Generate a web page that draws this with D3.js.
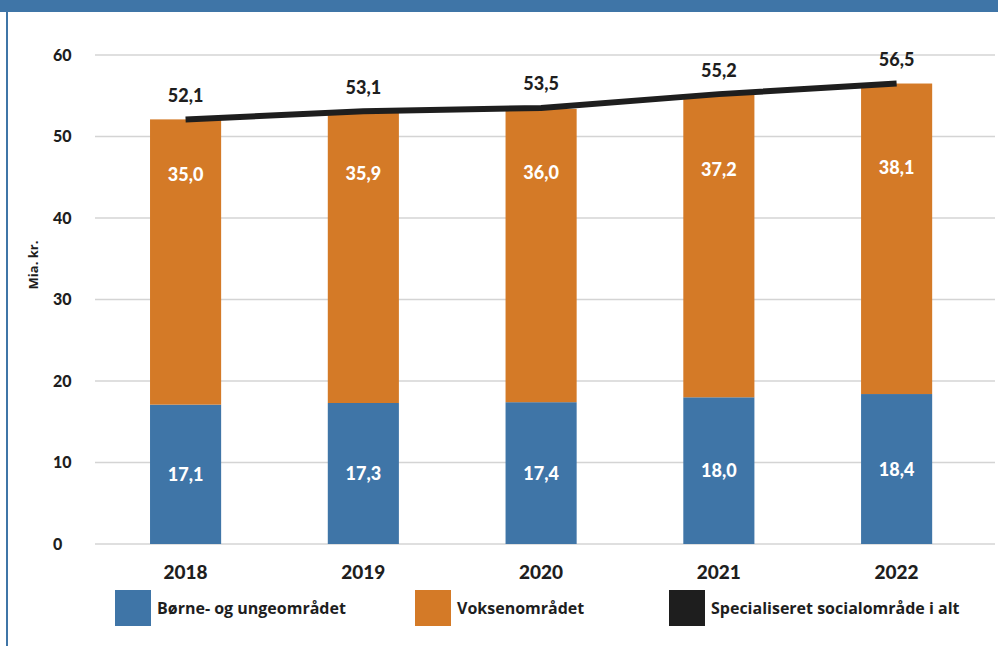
<!DOCTYPE html>
<html>
<head>
<meta charset="utf-8">
<script src="https://cdn.jsdelivr.net/npm/d3@7"></script>
<style>
  body { margin: 0; background: #fff; }
  svg { display: block; }
</style>
</head>
<body>
<script>
let years = ["2018", "2019", "2020", "2021", "2022"];
let boern = [17.1, 17.3, 17.4, 18.0, 18.4];
let voksen = [35.0, 35.9, 36.0, 37.2, 38.1];
let total = [52.1, 53.1, 53.5, 55.2, 56.5];
let yTicks = [0, 10, 20, 30, 40, 50, 60];
let legendNames = ["Børne- og ungeområdet", "Voksenområdet", "Specialiseret socialområde i alt"];

let width = 998;
let height = 646;
let blue = "#3f75a7";
let orange = "#d47a27";
let dark = "#1e1e1e";
let numFont = "Lato, 'Open Sans', sans-serif";
let txtFont = "'Open Sans', sans-serif";

function fmt(d) {
  return d.toFixed(1).replace(".", ",");
}

const svg = d3.select("body")
  .append("svg")
  .attr("width", width)
  .attr("height", height);

// frame: top banner and left border
svg.append("rect")
  .attr("x", 0).attr("y", 0)
  .attr("width", width).attr("height", 12)
  .attr("fill", blue);
svg.append("rect")
  .attr("x", 6).attr("y", 0)
  .attr("width", 2).attr("height", height)
  .attr("fill", blue);

const x = d3.scaleBand()
  .domain(years)
  .range([96.7, 985.5])
  .paddingInner(0.6)
  .paddingOuter(0.3);

const y = d3.scaleLinear()
  .domain([0, 60])
  .range([544, 55]);

// gridlines
svg.selectAll(".grid")
  .data(yTicks)
  .enter()
  .append("line")
  .attr("class", "grid")
  .attr("x1", 95)
  .attr("x2", 995)
  .attr("y1", function(d) { return y(d); })
  .attr("y2", function(d) { return y(d); })
  .attr("stroke", "#d4d4d4")
  .attr("stroke-width", 1.3);

// y tick labels
svg.selectAll(".ytick")
  .data(yTicks)
  .enter()
  .append("text")
  .attr("class", "ytick")
  .attr("x", 53)
  .attr("y", function(d) { return y(d); })
  .attr("dy", "0.36em")
  .attr("font-family", numFont)
  .attr("font-weight", 900)
  .attr("font-size", "16px")
  .attr("fill", dark)
  .text(function(d) { return d; });

svg.append("text")
  .attr("transform", "translate(38,265) rotate(-90)")
  .attr("text-anchor", "middle")
  .attr("font-family", txtFont)
  .attr("font-weight", 700)
  .attr("font-size", "13px")
  .attr("fill", dark)
  .text("Mia. kr.");

// bars: blue bottom, orange on top
svg.selectAll(".boern")
  .data(years)
  .enter()
  .append("rect")
  .attr("class", "boern")
  .attr("x", function(d) { return x(d); })
  .attr("width", x.bandwidth())
  .attr("y", function(d, i) { return y(boern[i]); })
  .attr("height", function(d, i) { return y(0) - y(boern[i]); })
  .attr("fill", blue);

svg.selectAll(".voksen")
  .data(years)
  .enter()
  .append("rect")
  .attr("class", "voksen")
  .attr("x", function(d) { return x(d); })
  .attr("width", x.bandwidth())
  .attr("y", function(d, i) { return y(boern[i] + voksen[i]); })
  .attr("height", function(d, i) { return y(boern[i]) - y(boern[i] + voksen[i]); })
  .attr("fill", orange);

// total line
const line = d3.line()
  .x(function(d, i) { return x(years[i]) + x.bandwidth() / 2; })
  .y(function(d) { return y(d); });

svg.append("path")
  .datum(total)
  .attr("d", line)
  .attr("fill", "none")
  .attr("stroke", dark)
  .attr("stroke-width", 6);

// labels inside bars
svg.selectAll(".lblB")
  .data(boern)
  .enter()
  .append("text")
  .attr("class", "lblB")
  .attr("x", function(d, i) { return x(years[i]) + x.bandwidth() / 2; })
  .attr("y", function(d) { return y(d / 2); })
  .attr("dy", "0.36em")
  .attr("text-anchor", "middle")
  .attr("font-family", numFont)
  .attr("font-weight", 900)
  .attr("font-size", "18px")
  .attr("fill", "#fff")
  .text(fmt);

svg.selectAll(".lblV")
  .data(voksen)
  .enter()
  .append("text")
  .attr("class", "lblV")
  .attr("x", function(d, i) { return x(years[i]) + x.bandwidth() / 2; })
  .attr("y", function(d, i) { return y(total[i] - 6.8 - (total[i] - total[0]) * 0.8); })
  .attr("dy", "0.36em")
  .attr("text-anchor", "middle")
  .attr("font-family", numFont)
  .attr("font-weight", 900)
  .attr("font-size", "18px")
  .attr("fill", "#fff")
  .text(fmt);

// total labels
svg.selectAll(".lblT")
  .data(total)
  .enter()
  .append("text")
  .attr("class", "lblT")
  .attr("x", function(d, i) { return x(years[i]) + x.bandwidth() / 2; })
  .attr("y", function(d) { return y(d) - 24; })
  .attr("dy", "0.36em")
  .attr("text-anchor", "middle")
  .attr("font-family", numFont)
  .attr("font-weight", 900)
  .attr("font-size", "18px")
  .attr("fill", dark)
  .text(fmt);

// year labels
svg.selectAll(".year")
  .data(years)
  .enter()
  .append("text")
  .attr("class", "year")
  .attr("x", function(d) { return x(d) + x.bandwidth() / 2; })
  .attr("y", 572)
  .attr("dy", "0.36em")
  .attr("text-anchor", "middle")
  .attr("font-family", numFont)
  .attr("font-weight", 900)
  .attr("font-size", "19px")
  .attr("fill", dark)
  .text(function(d) { return d; });

// legend
let legendX = [115, 415, 669];
let legendColors = [blue, orange, dark];

const legend = svg.selectAll(".legend")
  .data(legendNames)
  .enter()
  .append("g")
  .attr("class", "legend")
  .attr("transform", function(d, i) { return "translate(" + legendX[i] + ",590)"; });

legend.append("rect")
  .attr("width", 36)
  .attr("height", 36)
  .attr("fill", function(d, i) { return legendColors[i]; });

legend.append("text")
  .attr("x", 42)
  .attr("y", 18)
  .attr("dy", "0.36em")
  .attr("font-family", txtFont)
  .attr("font-weight", 700)
  .attr("font-size", "16px")
  .attr("fill", dark)
  .text(function(d) { return d; });
</script>
</body>
</html>
